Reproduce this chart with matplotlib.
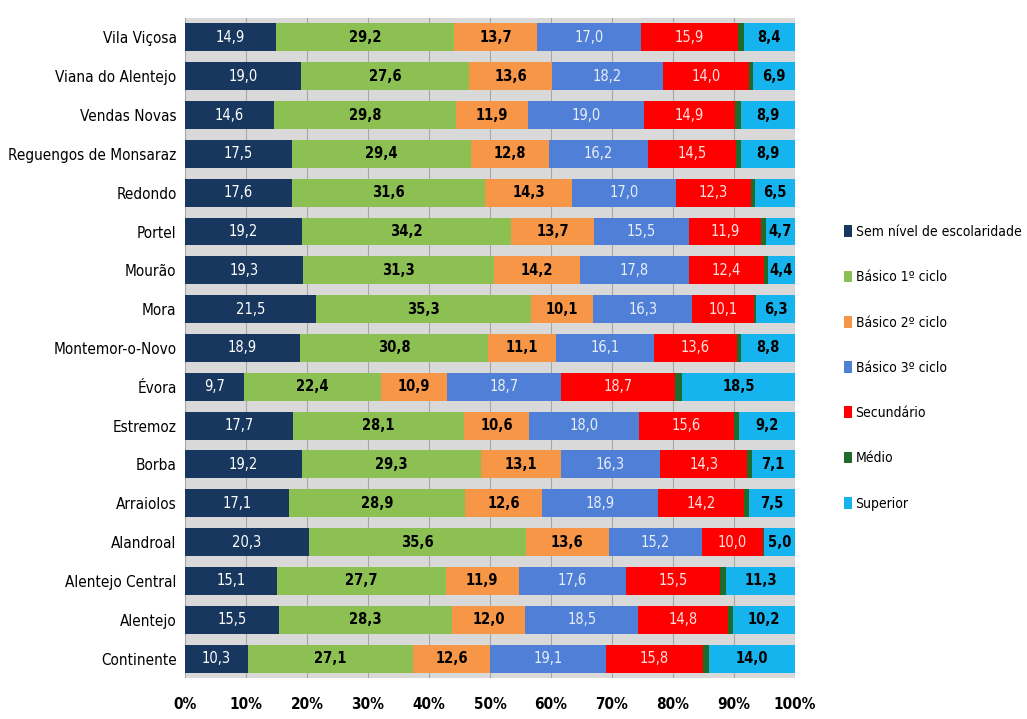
import matplotlib.pyplot as plt
import numpy as np

plt.rcParams['font.family'] = ['DejaVu Sans']
plt.rcParams['font.stretch'] = 'condensed'

regions = ['Vila Viçosa', 'Viana do Alentejo', 'Vendas Novas', 'Reguengos de Monsaraz',
           'Redondo', 'Portel', 'Mourão', 'Mora', 'Montemor-o-Novo', 'Évora', 'Estremoz',
           'Borba', 'Arraiolos', 'Alandroal', 'Alentejo Central', 'Alentejo', 'Continente']

sem_nivel = [14.9, 19.0, 14.6, 17.5, 17.6, 19.2, 19.3, 21.5, 18.9, 9.7, 17.7, 19.2, 17.1, 20.3, 15.1, 15.5, 10.3]
basico_1 = [29.2, 27.6, 29.8, 29.4, 31.6, 34.2, 31.3, 35.3, 30.8, 22.4, 28.1, 29.3, 28.9, 35.6, 27.7, 28.3, 27.1]
basico_2 = [13.7, 13.6, 11.9, 12.8, 14.3, 13.7, 14.2, 10.1, 11.1, 10.9, 10.6, 13.1, 12.6, 13.6, 11.9, 12.0, 12.6]
basico_3 = [17.0, 18.2, 19.0, 16.2, 17.0, 15.5, 17.8, 16.3, 16.1, 18.7, 18.0, 16.3, 18.9, 15.2, 17.6, 18.5, 19.1]
secundario = [15.9, 14.0, 14.9, 14.5, 12.3, 11.9, 12.4, 10.1, 13.6, 18.7, 15.6, 14.3, 14.2, 10.0, 15.5, 14.8, 15.8]
medio = [0.9, 0.7, 0.9, 0.7, 0.7, 0.8, 0.6, 0.4, 0.7, 1.1, 0.8, 0.7, 0.8, 0.3, 0.9, 0.7, 1.1]
superior = [8.4, 6.9, 8.9, 8.9, 6.5, 4.7, 4.4, 6.3, 8.8, 18.5, 9.2, 7.1, 7.5, 5.0, 11.3, 10.2, 14.0]

series = [
    ('Sem nível de escolaridade', sem_nivel, '#17375E', 'white', 'normal'),
    ('Básico 1º ciclo', basico_1, '#8DC052', 'black', 'bold'),
    ('Básico 2º ciclo', basico_2, '#F79646', 'black', 'bold'),
    ('Básico 3º ciclo', basico_3, '#4F7FD6', '#e8eef8', 'normal'),
    ('Secundário', secundario, '#FF0000', '#ffe0e0', 'normal'),
    ('Médio', medio, '#1E6B2A', None, None),
    ('Superior', superior, '#16B4EE', 'black', 'bold'),
]

fig = plt.figure(figsize=(10.27, 7.19), dpi=100)
ax = fig.add_axes([0.180, 0.057, 0.594, 0.918])
ax.set_facecolor('#d9d9d9')

y = np.arange(len(regions))
left = np.zeros(len(regions))
for name, vals, color, tcolor, weight in series:
    vals = np.array(vals)
    ax.barh(y, vals, left=left, height=0.72, color=color, label=name, zorder=3)
    if tcolor is not None:
        for yi, (l, v) in enumerate(zip(left, vals)):
            ax.text(l + v / 2, yi, f'{v:.1f}'.replace('.', ','), ha='center', va='center',
                    color=tcolor, fontsize=10.5, fontweight=weight, zorder=4)
    left += vals

ax.set_xlim(0, 100)
ax.set_ylim(len(regions) - 0.5, -0.5)
ax.set_yticks(y)
ax.set_yticklabels(regions, fontsize=11)
ax.set_xticks(np.arange(0, 101, 10))
ax.set_xticklabels([f'{t}%' for t in range(0, 101, 10)], fontsize=11, fontweight='bold')
ax.tick_params(axis='y', length=0, pad=6)
ax.tick_params(axis='x', length=0, pad=14)
ax.grid(axis='x', color='#a6a6a6', linewidth=0.8, zorder=1)
for s in ax.spines.values():
    s.set_visible(False)

ax.legend(loc='center left', bbox_to_anchor=(1.08, 0.47), frameon=False, fontsize=10,
          borderpad=0, borderaxespad=0, handlelength=0.6, handleheight=0.9,
          handletextpad=0.25, labelspacing=2.25)

fig.savefig('out.png', dpi=100)
